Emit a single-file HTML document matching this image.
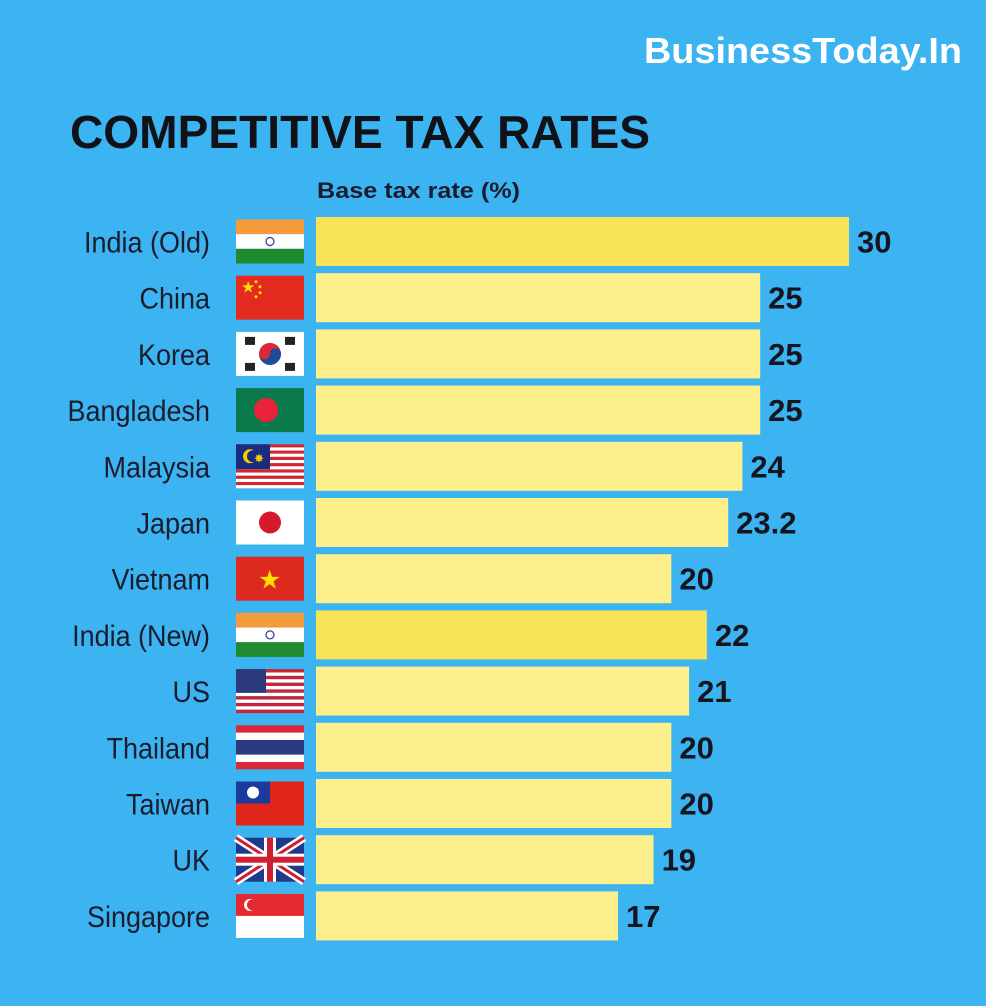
<!DOCTYPE html>
<html><head><meta charset="utf-8"><style>
html,body{margin:0;padding:0;background:#3cb4f1;}
svg{display:block;}
.lbl{font-family:"Liberation Sans Narrow","Liberation Sans",sans-serif;font-size:30px;fill:#1b1c2e;}
.val{font-family:"Liberation Sans",sans-serif;font-weight:bold;font-size:31px;fill:#15151f;}
</style></head><body>
<svg id="chart" width="986" height="1006" viewBox="0 0 986 1006" xmlns="http://www.w3.org/2000/svg">
<rect x="0" y="0" width="986" height="1006" fill="#3cb4f1"/>
<text x="644" y="63" font-family="Liberation Sans, sans-serif" font-weight="bold" font-size="36" fill="#ffffff" textLength="318" lengthAdjust="spacingAndGlyphs">BusinessToday.In</text>
<text x="70" y="148" font-family="Liberation Sans, sans-serif" font-weight="bold" font-size="46" fill="#111218" textLength="580" lengthAdjust="spacingAndGlyphs">COMPETITIVE TAX RATES</text>
<text x="317" y="198" font-family="Liberation Sans, sans-serif" font-weight="bold" font-size="22" fill="#1b1c2e" textLength="203" lengthAdjust="spacingAndGlyphs">Base tax rate (%)</text>
<g id="rows"></g>
</svg>
<script>
const categories = ["India (Old)","China","Korea","Bangladesh","Malaysia","Japan","Vietnam","India (New)","US","Thailand","Taiwan","UK","Singapore"];
const values = [30,25,25,25,24,23.2,20,22,21,20,20,19,17];
const valueLabels = ["30","25","25","25","24","23.2","20","22","21","20","20","19","17"];
const highlight = ["India (Old)","India (New)"];

const NS="http://www.w3.org/2000/svg";
const x0=316, pxPerUnit=533/30, rowTop=217, pitch=56.2, barH=49;
const xScale=v=>x0+v*pxPerUnit;
const yScale=i=>rowTop+i*pitch;
const g=document.getElementById('rows');
function mk(tag,attrs,parent){const e=document.createElementNS(NS,tag);for(const k in attrs)e.setAttribute(k,attrs[k]);(parent||g).appendChild(e);return e;}

function flag(name,fx,fy,parent){
  const w=68,h=44;
  const r=(x,y,ww,hh,c)=>mk('rect',{x:fx+x,y:fy+y,width:ww,height:hh,fill:c},parent);
  const c=(cx,cy,rr,col)=>mk('circle',{cx:fx+cx,cy:fy+cy,r:rr,fill:col},parent);
  if(name.startsWith("India")){r(0,0,w,h/3,'#f79a3c');r(0,h/3,w,h/3,'#fff');r(0,2*h/3,w,h/3,'#1f8a2e');mk('circle',{cx:fx+34,cy:fy+22,r:4,fill:'none',stroke:'#2b3b8c','stroke-width':1.2},parent);}
  else if(name==="China"){r(0,0,w,h,'#e42b1f');mk('text',{x:fx+5,y:fy+17,'font-size':16,fill:'#ffde00'},parent).textContent='★';[[20,6],[24,11],[24,17],[20,21]].forEach(p=>c(p[0],p[1],1.5,'#ffde00'));}
  else if(name==="Korea"){r(0,0,w,h,'#fff');c(34,22,11,'#d8283a');mk('path',{d:`M${fx+23} ${fy+22} a11 11 0 0 0 22 0 a5.5 5.5 0 0 0 -11 0 a5.5 5.5 0 0 1 -11 0z`,fill:'#1d4a9c'},parent);[[14,9],[54,9],[14,35],[54,35]].forEach(p=>r(p[0]-5,p[1]-4,10,8,'#222'));}
  else if(name==="Bangladesh"){r(0,0,w,h,'#0a7a4c');c(30,22,12,'#e8233a');}
  else if(name==="Malaysia"){for(let i=0;i<7;i++){r(0,i*h/7,w,h/14,'#d8242b');r(0,i*h/7+h/14,w,h/14,'#fff');}r(0,0,34,h/2+3,'#1a2c80');c(14,12,7,'#f5d000');c(17,12,6,'#1a2c80');mk('text',{x:fx+18,y:fy+18,'font-size':12,fill:'#f5d000'},parent).textContent='✸';}
  else if(name==="Japan"){r(0,0,w,h,'#fff');c(34,22,11,'#d7192e');}
  else if(name==="Vietnam"){r(0,0,w,h,'#de2a1e');mk('text',{x:fx+22,y:fy+32,'font-size':26,fill:'#ffdd00'},parent).textContent='★';}
  else if(name==="US"){for(let i=0;i<13;i++)r(0,i*h/13,w,h/13,i%2?'#fff':'#c8243a');r(0,0,30,h*7/13,'#2b3a7c');}
  else if(name==="Thailand"){r(0,0,w,h,'#d8283a');r(0,h/6,w,h*4/6,'#fff');r(0,h/3,w,h/3,'#2a3a80');}
  else if(name==="Taiwan"){r(0,0,w,h,'#e0251b');r(0,0,34,22,'#1a3a9c');c(17,11,6,'#fff');}
  else if(name==="UK"){r(0,0,w,h,'#1f3a8a');mk('path',{d:`M${fx} ${fy}L${fx+w} ${fy+h}M${fx+w} ${fy}L${fx} ${fy+h}`,stroke:'#fff','stroke-width':8},parent);mk('path',{d:`M${fx} ${fy}L${fx+w} ${fy+h}M${fx+w} ${fy}L${fx} ${fy+h}`,stroke:'#cf1f2e','stroke-width':3},parent);r(28,0,12,h,'#fff');r(0,16,w,12,'#fff');r(31,0,6,h,'#cf1f2e');r(0,19,w,6,'#cf1f2e');}
  else if(name==="Singapore"){r(0,0,w,h,'#fff');r(0,0,w,h/2,'#e42a2e');c(14,11,6,'#fff');c(16.5,11,5.5,'#e42a2e');}
}

categories.forEach((cat,i)=>{
  const y=yScale(i), cy=y+barH/2;
  const row=mk('g',{});
  
  
  const lbl=mk('text',{x:0,y:0,'text-anchor':'end',class:'lbl',transform:`translate(210,${cy+11}) scale(0.9,1)`},row);
  
  
  lbl.textContent=cat;
  const fg=mk('g',{},row);
  
  
  flag(cat,236,cy-22,fg);
  const bar=mk('rect',{x:x0,y:y,width:xScale(values[i])-x0,height:barH,fill:highlight.includes(cat)?'#f8e257':'#fdf08c'},row);
  
  
  const v=mk('text',{x:xScale(values[i])+8,y:cy+11,class:'val'},row);
  
  
  v.textContent=valueLabels[i];
});
</script>
</body></html>
